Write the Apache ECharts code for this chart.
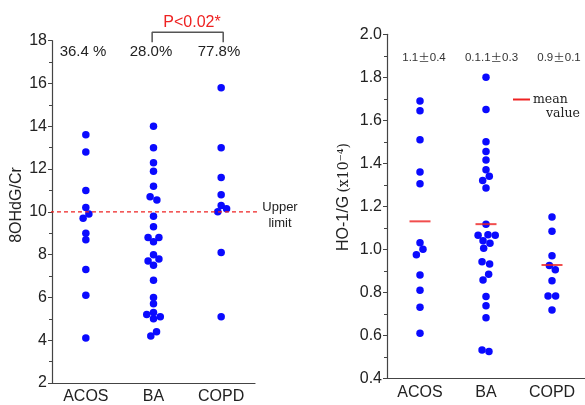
<!DOCTYPE html>
<html>
<head>
<meta charset="utf-8">
<script src="https://cdn.jsdelivr.net/npm/echarts@6/dist/echarts.min.js"></script>
<style>
  html, body {margin: 0; padding: 0; background: #fff;}
  #chart {width: 585px; height: 405px;}
</style>
</head>
<body>
<div id="chart"></div>
<script>
  var groups = ['ACOS', 'BA', 'COPD']

  // left panel: 8OHdG/Cr
  var acosOhdg = [13.6, 12.8, 11.0, 10.2, 9.9, 9.7, 9.0, 8.7, 7.3, 6.1, 4.1]
  var acosOhdgJit = [0, 0, 0, 0, 0.045, -0.04, 0, 0, 0, 0, 0]
  var baOhdg = [14.0, 13.0, 12.3, 11.9, 11.2, 10.7, 10.55, 9.8, 9.3, 8.8, 8.8, 8.6, 8.0, 7.7, 7.8, 7.5, 6.8, 6.0, 5.7, 5.3, 5.2, 5.1, 5.0, 4.4, 4.2]
  var baOhdgJit = [0, 0, 0, 0, 0, -0.05, 0.05, 0, 0, -0.08, 0.08, 0, 0, -0.08, 0.08, 0, 0, 0, 0, 0, -0.1, 0.1, 0, 0.045, -0.04]
  var copdOhdg = [15.8, 13.0, 11.6, 10.8, 10.3, 10.15, 10.0, 8.1, 5.1]
  var copdOhdgJit = [0, 0, 0, 0, 0, 0.08, -0.05, 0, 0]
  var ohdgPercent = ['36.4 %', '28.0%', '77.8%']
  var upperLimit = 10
  var ohdgMin = 2, ohdgMax = 18, ohdgStep = 2

  // right panel: HO-1/G
  var acosHo = [1.69, 1.645, 1.51, 1.36, 1.305, 1.03, 1.0, 0.975, 0.88, 0.81, 0.73, 0.61]
  var acosHoJit = [0, 0, 0, 0, 0, 0, 0.045, -0.055, 0, 0, 0, 0]
  var baHo = [1.80, 1.65, 1.50, 1.455, 1.415, 1.37, 1.34, 1.32, 1.285, 1.117, 1.065, 1.068, 1.065, 1.04, 1.028, 1.005, 0.942, 0.932, 0.884, 0.857, 0.78, 0.738, 0.682, 0.532, 0.525]
  var baHoJit = [0, 0, 0, 0, 0, 0, 0.05, -0.05, 0, 0, -0.12, 0.03, 0.14, -0.045, 0.06, -0.035, -0.06, 0.055, 0.04, -0.045, 0, 0, 0, -0.06, 0.045]
  var copdHo = [1.15, 1.084, 0.97, 0.925, 0.905, 0.854, 0.783, 0.783, 0.718]
  var copdHoJit = [0, 0, 0, -0.04, 0.05, 0, -0.06, 0.055, 0]
  var hoMeans = [1.13, 1.117, 0.927]
  var hoMeanText = ['1.1', '0.1.1', '0.9']
  var hoSdText = ['0.4', '0.3', '0.1']
  var hoMin = 0.4, hoMax = 2.0, hoStep = 0.2

  var font = "'Liberation Sans', Arial, sans-serif"
  var serif = "'DejaVu Serif', serif"
  var blue = '#0a0aff'
  var red = '#ee2222'
  var axisColor = '#444'

  function pts(vals, jit, idx) {
    var out = []
    for (var i = 0; i < vals.length; i++) {
      out.push([idx + jit[i], vals[i]])
    }
    return out
  }

  function dots(data, xi, yi) {
    return {type: 'scatter', xAxisIndex: xi, yAxisIndex: yi, data: data,
      symbolSize: 7.5, itemStyle: {color: blue, opacity: 1}, silent: true}
  }

  function catAxis(gi) {
    return {
      gridIndex: gi, type: 'category', data: groups, boundaryGap: true,
      axisLine: {lineStyle: {color: axisColor, width: 1.2}},
      axisTick: {alignWithLabel: true, length: 4, lineStyle: {color: axisColor}},
      axisLabel: {fontSize: 16, color: '#222', margin: 6, fontFamily: font},
      splitLine: {show: false},
      axisPointer: {show: false}
    }
  }

  // hidden axis the jittered dots are placed on
  function posAxis(gi) {
    return {gridIndex: gi, type: 'value', min: -0.5, max: 2.5,
      axisLine: {show: false}, axisTick: {show: false}, axisLabel: {show: false},
      splitLine: {show: false}, splitArea: {show: false}, axisPointer: {show: false}}
  }

  function valAxis(gi, min, max, step, digits) {
    return {
      gridIndex: gi, type: 'value', min: min, max: max, interval: step,
      axisLine: {show: true, onZero: false, lineStyle: {color: axisColor, width: 1.2}},
      axisTick: {show: true, length: 4, lineStyle: {color: axisColor}},
      minorTick: {show: true, splitNumber: 2, length: 3, lineStyle: {color: axisColor}},
      axisLabel: {fontSize: 16, color: '#222', margin: 5, fontFamily: font,
        formatter: function (v) { return v.toFixed(digits) }},
      splitLine: {show: false}
    }
  }

  var chart = echarts.init(document.getElementById('chart'))

  var meanData = []
  for (var i = 0; i < hoMeans.length; i++) meanData.push([i, hoMeans[i]])

  var graphic = []
  var pctX = [83, 151, 219]
  for (var i = 0; i < ohdgPercent.length; i++) {
    graphic.push({type: 'text', style: {x: pctX[i], y: 52, text: ohdgPercent[i], fill: '#222',
      font: '15px ' + font, textAlign: 'center', textVerticalAlign: 'middle'}})
  }
  var sumX = [424, 491.5, 559]
  for (var i = 0; i < hoMeanText.length; i++) {
    graphic.push({type: 'text', style: {x: sumX[i], y: 57.5,
      text: '{n|' + hoMeanText[i] + '}{p|\u00b1}{n|' + hoSdText[i] + '}',
      textAlign: 'center', textVerticalAlign: 'middle',
      rich: {n: {fontFamily: font, fontSize: 11.5, fill: '#333'},
             p: {fontFamily: "'Noto Sans CJK JP'", fontSize: 11.5, fill: '#333'}}}})
  }
  graphic.push(
    {type: 'text', style: {x: 192, y: 23, text: 'P<0.02*', fill: red, font: '16px ' + font,
      textAlign: 'center', textVerticalAlign: 'middle'}},
    {type: 'text', style: {x: 280, y: 207, text: 'Upper', fill: '#222', font: '13px ' + font,
      textAlign: 'center', textVerticalAlign: 'middle'}},
    {type: 'text', style: {x: 280, y: 223, text: 'limit', fill: '#222', font: '13px ' + font,
      textAlign: 'center', textVerticalAlign: 'middle'}},
    {type: 'line', shape: {x1: 513, y1: 99.5, x2: 530, y2: 99.5}, style: {stroke: red, lineWidth: 2}},
    {type: 'text', style: {x: 533, y: 100, text: 'mean', fill: '#222', font: '12.5px ' + serif,
      textAlign: 'left', textVerticalAlign: 'middle'}},
    {type: 'text', style: {x: 546, y: 113.5, text: 'value', fill: '#222', font: '12.5px ' + serif,
      textAlign: 'left', textVerticalAlign: 'middle'}},
    {type: 'text', x: 16.5, y: 205, rotation: Math.PI / 2,
      style: {x: 0, y: 0, text: '8OHdG/Cr', fill: '#222', font: '16px ' + font,
        textAlign: 'center', textVerticalAlign: 'middle'}},
    {type: 'text', x: 344, y: 197, rotation: Math.PI / 2,
      style: {x: 0, y: 0, text: '{a|HO-1/G} {b|(x10\u207b\u2074)}', fill: '#222',
        textAlign: 'center', textVerticalAlign: 'middle',
        rich: {a: {fontFamily: font, fontSize: 16, fill: '#222'},
               b: {fontFamily: serif, fontSize: 14, fill: '#222'}}}}
  )

  chart.setOption({
    backgroundColor: '#fff',
    animation: false,
    grid: [
      {left: 52, top: 40.7, width: 203, height: 343.3},
      {left: 387, top: 34.3, width: 204, height: 344}
    ],
    xAxis: [catAxis(0), posAxis(0), catAxis(1), posAxis(1)],
    yAxis: [
      valAxis(0, ohdgMin, ohdgMax, ohdgStep, 0),
      valAxis(1, hoMin, hoMax, hoStep, 1)
    ],
    graphic: graphic,
    series: [
      {type: 'line', xAxisIndex: 1, yAxisIndex: 0, clip: false, symbol: 'none', silent: true,
        data: [[-0.53, upperLimit], [2.6, upperLimit]],
        lineStyle: {color: red, width: 1.4, type: [4, 3]}},
      {type: 'line', xAxisIndex: 1, yAxisIndex: 0, clip: false, symbol: 'none', silent: true,
        data: [[0.98, 17.93], [0.98, 18.39], [2.03, 18.39], [2.03, 17.93]],
        lineStyle: {color: '#555', width: 1.5}},
      dots(pts(acosOhdg, acosOhdgJit, 0), 1, 0),
      dots(pts(baOhdg, baOhdgJit, 1), 1, 0),
      dots(pts(copdOhdg, copdOhdgJit, 2), 1, 0),
      dots(pts(acosHo, acosHoJit, 0), 3, 1),
      dots(pts(baHo, baHoJit, 1), 3, 1),
      dots(pts(copdHo, copdHoJit, 2), 3, 1),
      {type: 'scatter', xAxisIndex: 3, yAxisIndex: 1, data: meanData, symbol: 'rect',
        symbolSize: [21, 2], itemStyle: {color: red}, silent: true, z: 3}
    ]
  })
</script>
</body>
</html>
